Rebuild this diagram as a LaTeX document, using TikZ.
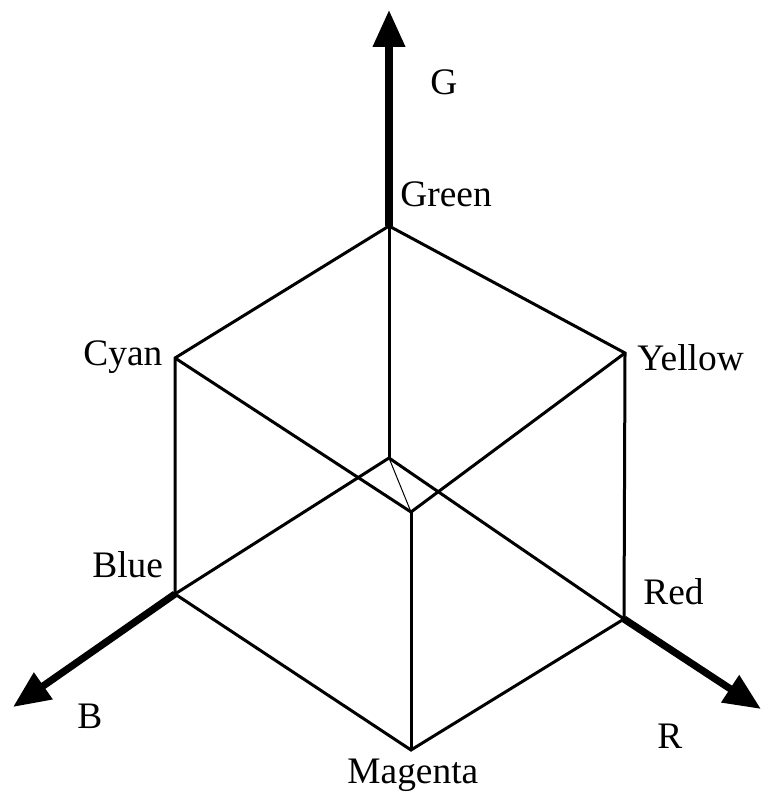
\documentclass[tikz,border=0pt]{standalone}
\usepackage{fontspec}
\setmainfont{Liberation Serif}
\usetikzlibrary{arrows.meta}

\begin{document}
\begin{tikzpicture}[x=0.5pt, y=-0.5pt,
  edge/.style={line width=1.5pt},
  diag/.style={line width=0.5pt},
  axis/.style={line width=3.6pt, -{Triangle[length=18.5pt, width=15.5pt]}},
  lbl/.style={anchor=base west, inner sep=0pt, font=\fontsize{18.7}{22}\selectfont}
]
  \useasboundingbox (0,0) rectangle (763,796);

  % Cube corners
  \coordinate (black)   at (389,458);
  \coordinate (white)   at (411,512);
  \coordinate (green)   at (389,226);
  \coordinate (cyan)    at (175,358);
  \coordinate (yellow)  at (625,353);
  \coordinate (blue)    at (175,594);
  \coordinate (red)     at (624,619);
  \coordinate (magenta) at (411,750);

  % Axis tips
  \coordinate (gtip) at (389,10);
  \coordinate (btip) at (13,707);
  \coordinate (rtip) at (761,709);

  % Outer edges
  \draw[edge] (green) -- (cyan) -- (blue) -- (magenta) -- (red) -- (yellow) -- cycle;

  % Inner edges
  \draw[edge] (black) -- (green);
  \draw[edge] (black) -- (blue);
  \draw[edge] (black) -- (red);
  \draw[edge] (white) -- (cyan);
  \draw[edge] (white) -- (yellow);
  \draw[edge] (white) -- (magenta);
  \draw[diag] (black) -- (white);

  % Axes
  \draw[axis] (green) -- (gtip);
  \draw[axis] (blue) -- (btip);
  \draw[axis] (red) -- (rtip);

  % Labels
  \node[lbl] (lg)       at (430,95)  {G};
  \node[lbl] (lgreen)   at (400,207) {Green};
  \node[lbl] (lcyan)    at (83,365)  {Cyan};
  \node[lbl] (lyellow)  at (637,370) {Yellow};
  \node[lbl] (lblue)    at (92,577)  {Blue};
  \node[lbl] (lred)     at (643,604) {Red};
  \node[lbl] (lb)       at (77,728)  {B};
  \node[lbl] (lr)       at (657,748) {R};
  \node[lbl] (lmagenta) at (347,783) {Magenta};
\end{tikzpicture}
\end{document}
